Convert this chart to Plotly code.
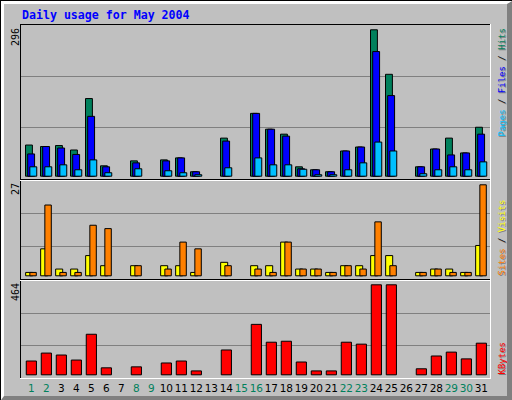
import plotly.graph_objects as go

# ---------------- data ----------------
days = list(range(1, 32))
weekend_days = [1, 2, 8, 9, 15, 16, 22, 23, 29, 30]

hits   = [63, 60, 62, 53, 157, 21, 0, 31, 0, 33, 37, 9, 0, 77, 0, 127, 95, 85, 19, 13, 9, 51, 59, 296, 206, 0, 19, 55, 77, 47, 99]
files  = [45, 60, 57, 44, 121, 19, 0, 27, 0, 31, 37, 9, 0, 71, 0, 127, 95, 81, 15, 13, 9, 51, 59, 252, 163, 0, 19, 55, 43, 47, 85]
pages  = [19, 19, 23, 13, 33, 7, 0, 15, 0, 11, 7, 3, 0, 17, 0, 37, 23, 23, 14, 3, 3, 13, 27, 69, 51, 0, 5, 13, 19, 13, 29]
visits = [1, 8, 2, 2, 6, 3, 0, 3, 0, 3, 3, 1, 0, 4, 0, 3, 3, 10, 2, 2, 1, 3, 3, 6, 6, 0, 1, 2, 2, 1, 9]
sites  = [1, 21, 1, 1, 15, 14, 0, 3, 0, 2, 10, 8, 0, 3, 0, 2, 1, 10, 2, 2, 1, 3, 2, 16, 3, 0, 1, 2, 1, 1, 27]
kbytes = [71, 112, 102, 76, 209, 36, 0, 41, 0, 61, 71, 20, 0, 128, 0, 260, 168, 173, 66, 20, 20, 168, 158, 464, 464, 0, 31, 97, 117, 82, 163]

max_hits, max_visits, max_kbytes = 296, 27, 464
title_text = "Daily usage for May 2004"

# ---------------- colours ----------------
C_HITS, C_FILES, C_PAGES = "#00805C", "#0000FF", "#00C0FF"
C_VISITS, C_SITES, C_KB = "#FFFF00", "#FF8000", "#FF0000"
BG, DKGREY, WHITE, BLACK = "#C0C0C0", "#808080", "#FFFFFF", "#000000"

# ---------------- geometry helpers ----------------
W, H = 512, 400
ML, MR, MT, MB = 21, 22, 25, 22
PW, PH = W - ML - MR, H - MT - MB


def X(px):
    return (px - ML) / PW


def Y(py):
    return (H - MB - py) / PH


def yrange(box_top, box_bot, base_px, max_px, max_val):
    s = (base_px - max_px) / max_val
    return [-(box_bot - base_px) / s, (base_px - box_top) / s]


def thirds(r):
    return [r[0] + (r[1] - r[0]) / 3, r[0] + 2 * (r[1] - r[0]) / 3]


DAY_PX, DAY1_PX = 15.0, 31.35
xr = [1 - (DAY1_PX - ML) / DAY_PX, 1 + (W - MR - DAY1_PX) / DAY_PX]

r1 = yrange(25, 179, 176.2, 29.8, max_hits)
r2 = yrange(181, 279, 275.8, 184.8, max_visits)
r3 = yrange(281, 378, 374.8, 284.8, max_kbytes)


def bar(vals, color, axis, offset, width):
    # days with no traffic draw no bar at all
    shown = [v if v else None for v in vals]
    return go.Bar(x=days, y=shown, xaxis="x", yaxis=axis, offset=offset, width=width,
                  marker=dict(color=color, line=dict(color=BLACK, width=1)),
                  hoverinfo="skip", showlegend=False)


fig = go.Figure()
fig.add_trace(bar(hits, C_HITS, "y", -0.39, 0.46))
fig.add_trace(bar(files, C_FILES, "y", -0.245, 0.46))
fig.add_trace(bar(pages, C_PAGES, "y", -0.10, 0.46))
fig.add_trace(bar(visits, C_VISITS, "y2", -0.38, 0.47))
fig.add_trace(bar(sites, C_SITES, "y2", -0.10, 0.43))
fig.add_trace(bar(kbytes, C_KB, "y3", -0.34, 0.68))

ticktext = [f'<span style="color:{C_HITS}">{d}</span>' if d in weekend_days else str(d) for d in days]

yax_common = dict(showticklabels=False, showline=False, zeroline=False, ticks="",
                  gridcolor=DKGREY, gridwidth=1, anchor="x", fixedrange=True, automargin=False)

fig.update_layout(
    width=W, height=H,
    margin=dict(l=ML, r=MR, t=MT, b=MB, pad=0, autoexpand=False),
    paper_bgcolor=BG, plot_bgcolor=BG,
    barmode="overlay", bargap=0,
    showlegend=False,
    xaxis=dict(range=xr, anchor="y3", tickvals=days, ticktext=ticktext, ticks="",
               tickangle=0, automargin=False,
               showgrid=False, zeroline=False, showline=False,
               tickfont=dict(family="DejaVu Sans", size=10.5, color=BLACK),
               ticklabelstandoff=2, fixedrange=True),
    yaxis=dict(domain=[Y(179), Y(25)], range=r1, tickvals=thirds(r1), **yax_common),
    yaxis2=dict(domain=[Y(279), Y(181)], range=r2, tickvals=thirds(r2), **yax_common),
    yaxis3=dict(domain=[Y(378), Y(281)], range=r3, tickvals=thirds(r3), **yax_common),
)

shapes = []


def rect(x0, y0, x1, y1, color, layer="below"):
    shapes.append(dict(type="rect", xref="paper", yref="paper", x0=X(x0), x1=X(x1), y0=Y(y0), y1=Y(y1),
                       fillcolor=color, line=dict(width=0), layer=layer))


def line(x0, y0, x1, y1, color):
    shapes.append(dict(type="line", xref="paper", yref="paper", x0=X(x0), x1=X(x1), y0=Y(y0), y1=Y(y1),
                       line=dict(color=color, width=1), layer="above"))


# outer bevelled frame
rect(0, 0, 512, 400, BLACK)
rect(1, 1, 512, 400, DKGREY)
shapes.append(dict(type="path", xref="paper", yref="paper", layer="below", line=dict(width=0), fillcolor=WHITE,
                   path=f"M{X(1)},{Y(1)} L{X(512)},{Y(1)} L{X(507)},{Y(4)} L{X(4)},{Y(4)} L{X(4)},{Y(396)} L{X(1)},{Y(400)} Z"))
rect(4, 4, 507, 396, BG)

# inner sunken box and panel separators
line(20, 24.5, 491, 24.5, BLACK)
line(20.5, 24, 20.5, 379, BLACK)
line(490.5, 24, 490.5, 379, WHITE)
line(20, 378.5, 491, 378.5, WHITE)
line(20, 179.5, 490, 179.5, BLACK)
line(20, 180.5, 490, 180.5, WHITE)
line(20, 279.5, 490, 279.5, BLACK)
line(20, 280.5, 490, 280.5, WHITE)

annotations = []


def ann(text, px, py, size, family, color=BLACK, angle=0, xanchor="center", yanchor="middle"):
    annotations.append(dict(text=text, x=X(px), y=Y(py), xref="paper", yref="paper", showarrow=False,
                            textangle=angle, xanchor=xanchor, yanchor=yanchor,
                            font=dict(family=family, size=size, color=color)))


ann(f"<b>{title_text}</b>", 19.5, 15, 11.6, "DejaVu Sans Mono", C_FILES, xanchor="left")

ann(str(max_hits), 15, 26, 10, "DejaVu Sans Mono", angle=-90, yanchor="top")
ann(str(max_visits), 15, 181, 10, "DejaVu Sans Mono", angle=-90, yanchor="top")
ann(str(max_kbytes), 15, 281, 10, "DejaVu Sans Mono", angle=-90, yanchor="top")


def legend(parts, px, py):
    shadow = " / ".join(p for p, _ in parts)
    ann(shadow, px + 1, py + 1, 9, "DejaVu Sans Mono", DKGREY, angle=-90)
    txt = " / ".join(f'<span style="color:{c}">{p}</span>' for p, c in parts)
    ann(txt, px, py, 9, "DejaVu Sans Mono", BLACK, angle=-90)


legend([("Pages", C_PAGES), ("Files", C_FILES), ("Hits", C_HITS)], 501, 82.5)
legend([("Sites", C_SITES), ("Visits", C_VISITS)], 501, 237.5)
legend([("KBytes", C_KB)], 501, 358.5)

fig.update_layout(shapes=shapes, annotations=annotations)

fig.write_html("out.html", config={"displayModeBar": False, "staticPlot": True},
               post_script="document.body.style.margin='0';")
